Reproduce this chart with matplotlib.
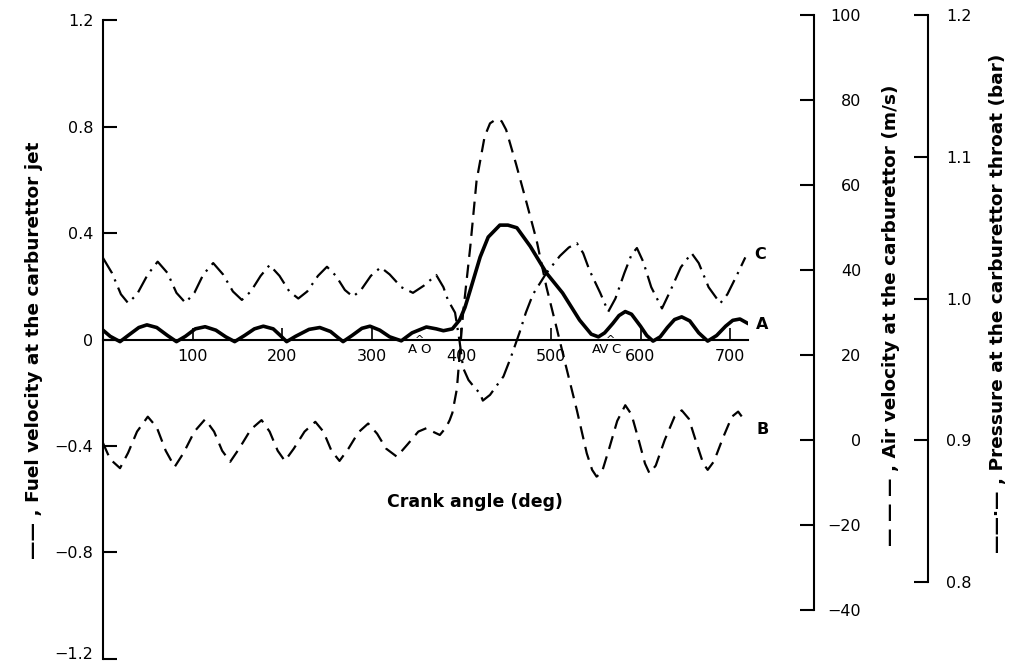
import matplotlib.pyplot as plt
from matplotlib.transforms import ScaledTranslation

# crank angle (deg) / fuel velocity at the carburettor jet (curve A)
fuel_deg = [0, 8, 19, 30, 40, 49, 60, 72, 82, 92, 103, 114, 126, 137, 147, 158, 169, 179,
            190, 198, 205, 215, 230, 242, 254, 262, 268, 278, 289, 298, 309, 320, 333, 345,
            361, 372, 380, 390, 398, 404, 410, 421, 430, 443, 452, 462, 477, 495, 513, 532,
            545, 553, 560, 569, 576, 583, 590, 600, 607, 614, 622, 630, 638, 646, 655, 665,
            675, 685, 695, 703, 711, 719]
fuel_vel = [0.035, 0.012, -0.008, 0.02, 0.045, 0.055, 0.045, 0.015, -0.008, 0.012, 0.04, 0.048,
            0.035, 0.01, -0.008, 0.015, 0.04, 0.05, 0.04, 0.015, -0.008, 0.012, 0.038, 0.045,
            0.03, 0.008, -0.008, 0.015, 0.042, 0.05, 0.035, 0.01, -0.005, 0.025, 0.047, 0.04,
            0.033, 0.04, 0.073, 0.12, 0.186, 0.31, 0.385, 0.43, 0.43, 0.42, 0.35, 0.25, 0.175,
            0.073, 0.02, 0.01, 0.025, 0.06, 0.09, 0.105, 0.095, 0.05, 0.015, -0.006, 0.01,
            0.045, 0.075, 0.085, 0.07, 0.025, -0.006, 0.015, 0.05, 0.072, 0.077, 0.062]

# air velocity at the carburettor, m/s (curve B)
air_deg = [0, 8, 19, 28, 38, 50, 60, 70, 80, 90, 102, 114, 124, 133, 142, 152, 165, 177, 186,
           195, 203, 213, 225, 237, 246, 255, 264, 274, 285, 296, 306, 316, 328, 340, 352, 361,
           368, 376, 383, 387, 390, 395, 402, 410, 417, 426, 432, 439, 445, 450, 461, 473, 484,
           495, 506, 517, 529, 540, 546, 551, 557, 565, 574, 583, 590, 598, 605, 610, 617, 627,
           638, 646, 654, 663, 670, 675, 682, 692, 702, 709, 716]
air_vel = [-0.7, -4.5, -6.6, -3, 2, 5.5, 3, -2.5, -6.3, -3, 2, 4.9, 2, -2.5, -5.1, -2, 2.5, 4.7,
           2, -2.5, -4.9, -2, 2, 4.3, 2, -2.5, -4.9, -2, 1.8, 3.9, 1.5, -2, -3.9, -1, 2, 2.8,
           2, 1.2, 3, 4.7, 6.4, 12, 30, 45.5, 61, 71.4, 74.5, 75.5, 75, 73, 65, 55.7, 47, 36,
           26.7, 17.2, 7, -3.1, -7, -8.6, -7.5, -2, 4.5, 8.2, 6, 0, -5.5, -7.8, -6, 0, 5.5, 7,
           5, -1, -5.5, -7, -5, 0.5, 5.5, 6.7, 4.7]

# pressure at the carburettor throat, bar (curve C)
p_deg = [0, 10, 20, 28, 38, 50, 61, 72, 82, 92, 102, 112, 123, 134, 145, 155, 165, 176, 186,
         197, 208, 218, 228, 240, 250, 260, 270, 279, 288, 299, 310, 320, 333, 346, 358, 372,
         380, 385, 393, 398, 402, 408, 415, 421, 424, 432, 440, 447, 455, 465, 472, 480, 495,
         510, 520, 529, 536, 543, 555, 564, 572, 582, 590, 596, 603, 612, 624, 633, 645, 657,
         665, 676, 689, 697, 708, 717]
p_bar = [1.0286, 1.018, 1.003, 0.9968, 1.003, 1.017, 1.026, 1.018, 1.004, 0.997, 1.004, 1.017,
         1.025, 1.017, 1.005, 0.999, 1.005, 1.016, 1.0236, 1.016, 1.005, 1.0, 1.005, 1.016,
         1.0224, 1.016, 1.006, 1.0013, 1.006, 1.016, 1.022, 1.017, 1.008, 1.004, 1.009, 1.0166,
         1.008, 0.999, 0.99, 0.97, 0.951, 0.9425, 0.937, 0.933, 0.928, 0.932, 0.939, 0.945,
         0.958, 0.976, 0.99, 1.003, 1.018, 1.03, 1.036, 1.039, 1.032, 1.02, 1.004, 0.9907, 1.0,
         1.018, 1.031, 1.0356, 1.026, 1.008, 0.993, 1.005, 1.022, 1.032, 1.025, 1.008, 0.9966,
         1.003, 1.017, 1.029]

fuel_ticks = [-1.2, -0.8, -0.4, 0, 0.4, 0.8, 1.2]
fuel_ticklabels = ['\u22121.2', '\u22120.8', '\u22120.4', '0', '0.4', '0.8', '1.2']
air_ticks = [-40, -20, 0, 20, 40, 60, 80, 100]
air_ticklabels = ['\u221240', '\u221220', '0', '20', '40', '60', '80', '100']
p_ticks = [0.8, 0.9, 1.0, 1.1, 1.2]
p_ticklabels = ['0.8', '0.9', '1.0', '1.1', '1.2']
x_ticks = [100, 200, 300, 400, 500, 600, 700]

plt.rcParams['font.family'] = ['DejaVu Sans']
W, H = 1010, 665
fig = plt.figure(figsize=(W / 100, H / 100), dpi=100)
ax = fig.add_axes([103 / W, 3 / H, 645 / W, 650 / H])

lw_axis = 1.5
tick_fs = 11.5
ax.set_xlim(0, 720)
ax.set_ylim(-1.2124, 1.2312)
for s in ['top', 'right']:
    ax.spines[s].set_visible(False)
ax.spines['left'].set_bounds(-1.2, 1.2)
ax.spines['left'].set_linewidth(lw_axis)
ax.spines['bottom'].set_position(('data', 0))
ax.spines['bottom'].set_bounds(0, 720)
ax.spines['bottom'].set_linewidth(lw_axis)
ax.set_yticks(fuel_ticks)
ax.set_yticklabels(fuel_ticklabels)
ax.set_xticks(x_ticks)
ax.tick_params(axis='y', direction='in', length=10, width=lw_axis, pad=7, labelsize=tick_fs)
ax.tick_params(axis='x', direction='in', length=9, width=1.2, pad=7, labelsize=tick_fs)
# bottom label sits right at the page edge; lift it a little so it stays whole
low = ax.get_yticklabels()[0]
low.set_transform(low.get_transform() + ScaledTranslation(0, 4 / 72, fig.dpi_scale_trans))

ax_air = ax.twinx()
ax_air.set_ylim(-52.2, 100.7)
for s in ['top', 'left', 'bottom']:
    ax_air.spines[s].set_visible(False)
ax_air.spines['right'].set_position(('axes', 711 / 645))
ax_air.spines['right'].set_bounds(-40, 100)
ax_air.spines['right'].set_linewidth(lw_axis)
ax_air.set_yticks(air_ticks)
ax_air.set_yticklabels(air_ticklabels)
ax_air.tick_params(axis='y', direction='in', length=10, width=lw_axis, pad=34, labelsize=tick_fs)
for tl in ax_air.get_yticklabels():
    tl.set_horizontalalignment('right')

ax_p = ax.twinx()
ax_p.set_ylim(0.7436, 1.2021)
for s in ['top', 'left', 'bottom']:
    ax_p.spines[s].set_visible(False)
ax_p.spines['right'].set_position(('axes', 825 / 645))
ax_p.spines['right'].set_bounds(0.8, 1.2)
ax_p.spines['right'].set_linewidth(lw_axis)
ax_p.set_yticks(p_ticks)
ax_p.set_yticklabels(p_ticklabels)
ax_p.tick_params(axis='y', direction='in', length=10, width=lw_axis, pad=13, labelsize=tick_fs)

# curves
ax.plot(fuel_deg, fuel_vel, color='black', lw=2.6, solid_joinstyle='round')
lb, = ax_air.plot(air_deg, air_vel, color='black', lw=1.6)
lb.set_dashes([6, 3.5])
lc, = ax_p.plot(p_deg, p_bar, color='black', lw=1.6)
lc.set_dashes([8, 3, 1, 3])

# curve letters and valve events
tkw = dict(fontsize=11.5, fontweight='bold', ha='left', va='center', clip_on=False)
ax.text(729, 0.055, 'A', **tkw)
ax.text(729, -0.34, 'B', **tkw)
ax.text(727, 0.32, 'C', **tkw)
ekw = dict(fontsize=9.5, ha='center', va='top')
ax.text(345, -0.012, 'A', **ekw)
ax.text(360, -0.012, 'O', **ekw)
ax.text(353, 0.0, '^', fontsize=8, ha='center', va='center')
ax.text(555, -0.012, 'AV', **ekw)
ax.text(573, -0.012, 'C', **ekw)
ax.text(566, 0.0, '^', fontsize=8, ha='center', va='center')

lkw = dict(fontsize=13.3, fontweight='bold', rotation=90, ha='center', va='center')
fig.text(34 / W, 1 - 350 / H, '\u2014\u2014 , Fuel velocity at the carburettor jet', **lkw)
fig.text(891 / W, 1 - 315 / H, '\u2014 \u2014 \u2014 , Air velocity at the carburettor (m/s)', **lkw)
fig.text(998 / W, 1 - 303 / H, '\u2014\u2014\u00b7\u2014 , Pressure at the carburettor throat (bar)', **lkw)
fig.text(475 / W, 1 - 502 / H, 'Crank angle (deg)', fontsize=12.5, fontweight='bold',
         ha='center', va='center')

fig.savefig('out.png', dpi=100)
